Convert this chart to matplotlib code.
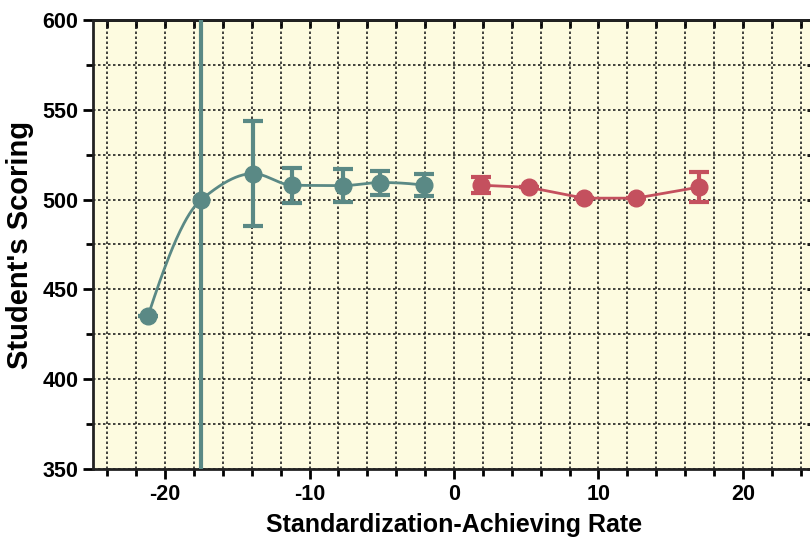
import numpy as np
import matplotlib.pyplot as plt
from matplotlib.ticker import MultipleLocator

# green group (below standard)
green_x = [-21.2, -17.5, -13.9, -11.2, -7.7, -5.1, -2.1]
green_y = [435, 500, 514.5, 508, 507.8, 509.5, 508]
green_err = [0, 300, 29, 9.7, 9, 6.7, 6]

# red group (above standard)
red_x = [1.9, 5.2, 9.0, 12.6, 17.0]
red_y = [508, 506.8, 500.8, 500.8, 507]
red_err = [4.5, 0, 0, 0, 8.5]

green = '#5a8985'
red = '#c4505e'


def pchip(x, y, n=300):
    # monotone cubic through the points (smooth connecting line)
    x = np.asarray(x, float)
    y = np.asarray(y, float)
    h = np.diff(x)
    delta = np.diff(y) / h
    k = len(x)
    d = np.zeros(k)
    for i in range(1, k - 1):
        if delta[i - 1] * delta[i] > 0:
            w1 = 2 * h[i] + h[i - 1]
            w2 = h[i] + 2 * h[i - 1]
            d[i] = (w1 + w2) / (w1 / delta[i - 1] + w2 / delta[i])
    d[0] = ((2 * h[0] + h[1]) * delta[0] - h[0] * delta[1]) / (h[0] + h[1])
    if np.sign(d[0]) != np.sign(delta[0]):
        d[0] = 0
    d[-1] = ((2 * h[-1] + h[-2]) * delta[-1] - h[-1] * delta[-2]) / (h[-1] + h[-2])
    if np.sign(d[-1]) != np.sign(delta[-1]):
        d[-1] = 0
    xs = np.linspace(x[0], x[-1], n)
    ys = np.empty_like(xs)
    for j, xv in enumerate(xs):
        i = min(np.searchsorted(x, xv, side='right') - 1, k - 2)
        t = (xv - x[i]) / h[i]
        h00 = 2 * t ** 3 - 3 * t ** 2 + 1
        h10 = t ** 3 - 2 * t ** 2 + t
        h01 = -2 * t ** 3 + 3 * t ** 2
        h11 = t ** 3 - t ** 2
        ys[j] = h00 * y[i] + h10 * h[i] * d[i] + h01 * y[i + 1] + h11 * h[i] * d[i + 1]
    return xs, ys


plt.rcParams['font.family'] = ['Liberation Sans', 'DejaVu Sans']
plt.rcParams['font.weight'] = 'bold'
plt.rcParams['axes.unicode_minus'] = False

fig = plt.figure(figsize=(8.1, 5.38), dpi=100)
ax = fig.add_axes([93 / 810, 1 - 469 / 538, 722 / 810, 449 / 538])
ax.set_facecolor('#fdfbe0')

ax.set_xlim(-25, 25)
ax.set_ylim(350, 600)

ax.xaxis.set_major_locator(MultipleLocator(10))
ax.xaxis.set_minor_locator(MultipleLocator(2))
ax.yaxis.set_major_locator(MultipleLocator(50))
ax.yaxis.set_minor_locator(MultipleLocator(25))

ax.grid(True, which='both', color='#222222', linestyle=(0, (1.5, 1.5)), linewidth=1.2)
ax.set_axisbelow(True)

sx, sy = pchip(green_x, green_y)
ax.plot(sx, sy, color=green, lw=2, zorder=3)
ax.errorbar(green_x, green_y, yerr=green_err, fmt='o', color=green, ms=12,
            elinewidth=3, capsize=7, capthick=3, zorder=4)

ax.plot(red_x, red_y, color=red, lw=2, zorder=3)
ax.errorbar(red_x, red_y, yerr=red_err, fmt='o', color=red, ms=12,
            elinewidth=3, capsize=7, capthick=3, zorder=4)

for s in ['left', 'bottom', 'top', 'right']:
    ax.spines[s].set_linewidth(2)
    ax.spines[s].set_color('#222222')

ax.tick_params(which='major', direction='out', length=7, width=2, labelsize=15.5)
ax.tick_params(which='minor', direction='out', length=5, width=2)

top = ax.secondary_xaxis('top')
top.xaxis.set_major_locator(MultipleLocator(10))
top.xaxis.set_minor_locator(MultipleLocator(2))
top.tick_params(which='both', direction='in', length=6, width=2, labeltop=False)
top.spines['top'].set_linewidth(2)

right = ax.secondary_yaxis('right')
right.yaxis.set_major_locator(MultipleLocator(50))
right.yaxis.set_minor_locator(MultipleLocator(25))
right.tick_params(which='both', direction='in', length=6, width=2, labelright=False)

ax.set_xlabel('Standardization-Achieving Rate', fontsize=18, fontweight='bold', labelpad=6)
ax.set_ylabel("Student's Scoring", fontsize=21, fontweight='bold', labelpad=6)

fig.savefig('out.png', dpi=100)
